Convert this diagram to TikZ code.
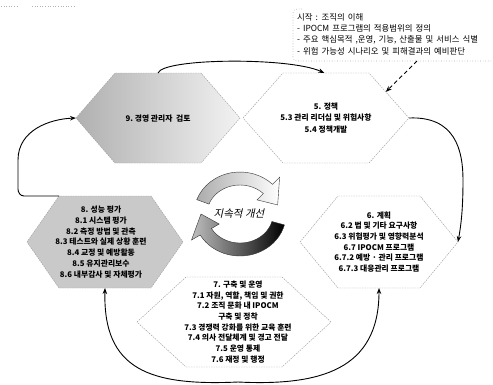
\documentclass[tikz,border=0pt]{standalone}
\usepackage{fontspec}
\setmainfont{Noto Sans CJK KR}
\newfontfamily\slantfont[FakeSlant=0.22]{Noto Sans CJK KR}
\newfontfamily\callfont[WordSpace=1.6]{Noto Sans CJK KR}
\usetikzlibrary{arrows.meta,calc}

\tikzset{
  hexline/.style={draw=gray!75, line width=0.45pt, dash pattern=on 1.5pt off 1pt},
  hextext/.style={align=center, font=\fontsize{7.8}{10.7}\selectfont\bfseries, inner sep=0pt},
  conn/.style={draw=black, line width=0.9pt, -{Stealth[length=6pt,width=4.5pt]}},
  calltext/.style={anchor=west, font=\callfont\fontsize{8.4}{11}\selectfont, inner sep=0pt},
  cyclearrow/.style={draw=black!80, line width=0.4pt},
}

\newcommand\hexpath[7]{%
  \coordinate (#1-L) at ({#2-#4},#3);
  \coordinate (#1-R) at ({#2+#4},#3);
  \coordinate (#1-TL) at ({#2-#5},{#3-#6});
  \coordinate (#1-TR) at ({#2+#5},{#3-#6});
  \coordinate (#1-BL) at ({#2-#5},{#3+#6});
  \coordinate (#1-BR) at ({#2+#5},{#3+#6});
  \coordinate (#1-T) at (#2,{#3-#6});
  \coordinate (#1-B) at (#2,{#3+#6});
  \path[#7] (#1-L) -- (#1-TL) -- (#1-TR) -- (#1-R) -- (#1-BR) -- (#1-BL) -- cycle;
}

\begin{document}
\begin{tikzpicture}[x=1pt,y=-1pt]
\useasboundingbox (0,0) rectangle (493,384);

% stray header dots
\draw[gray!60, dotted, line width=0.6pt] (1,6) -- (18,6) (32,6) -- (75,6);

% hexagons
\hexpath{h9}{158}{118}{82}{43}{45}{hexline, left color=gray!62, right color=gray!10}
\hexpath{h5}{326}{118}{83}{43}{45}{hexline, fill=white}
\hexpath{h8}{105}{242}{78}{46}{46}{hexline, fill=gray!42}
\hexpath{h6}{379}{242}{79}{41}{46}{hexline, fill=white}
\hexpath{h7}{234}{322}{97}{48}{45}{hexline, fill=white}

% texts
\node[hextext] (t9) at (158,119) {9.\ 경영 관리자\ \ 검토};
\node[hextext, font=\fontsize{7.8}{11.8}\selectfont\bfseries] (t5) at (326,118) {5. 정책\\5.3 관리 리더십 및 위험사항\\5.4 정책개발};
\node[hextext] (t8) at (101,242) {8. 성능 평가\\8.1 시스템 평가\\8.2 측정 방법 및 관측\\8.3 테스트와 실제 상황 훈련\\8.4 교정 및 예방활동\\8.5 유지관리보수\\8.6 내부감사 및 자체평가};
\node[hextext] (t6) at (379,242) {6. 계획\\6.2 법 및 기타 요구사항\\6.3 위험평가 및 영향력분석\\6.7 IPOCM 프로그램\\6.7.2 예방 · 관리 프로그램\\6.7.3 대응관리 프로그램};
\node[hextext] (t7) at (238,322) {7. 구축 및 운영\\7.1 자원, 역할, 책임 및 권한\\7.2 조직 문화 내 IPOCM\\구축 및 정착\\7.3 경쟁력 강화를 위한 교육 훈련\\7.4 의사 전달체계 및 경고 전달\\7.5 운영 통제\\7.6 재정 및 행정};

% callout
\draw[gray!70, dotted, line width=0.6pt, rounded corners=4pt] (302,9) -| (293,61) -- (493,61);
\node[calltext] (c1) at (297,17) {시작 : 조직의 이해};
\node[calltext] (c2) at (297,28.5) {- IPOCM 프로그램의 적용범위의 정의};
\node[calltext] (c3) at (297,40) {- 주요 핵심목적 ,운영, 기능, 산출물 및 서비스 식별};
\node[calltext] (c4) at (297,51.5) {- 위험 가능성 시나리오 및 피해결과의 예비판단};
\coordinate (cb) at (417,61);
\coordinate (h5edge) at ($(h5-TR)!0.42!(h5-R)$);
\draw[conn, dash pattern=on 4pt off 3pt] (cb) -- (h5edge);

% cycle connectors
\coordinate (h9top) at ($(h9-TL)!0.5!(h9-TR)$);
\coordinate (h5top) at ($(h5-TL)!0.48!(h5-TR)$);
\draw[conn] (h9top) .. controls (163,58) and (290,57) .. (h5top);
\draw[conn] (h5-R) .. controls (455,116) and (463,150) .. (463,180) .. controls (463,210) and (461,225) .. (h6-R);
\coordinate (bm) at (238,382);
\draw[conn] (bm) .. controls (150,386) and (103,370) .. (h8-B);
\draw[conn] (bm) .. controls (320,386) and (379,370) .. (h6-B);
\draw[conn] (h8-TL) -- (24,196) to[out=180,in=-90] (18,189) -- (18,160) .. controls (18,130) and (50,119) .. (h9-L);

% continuous improvement circle
\begin{scope}[shift={(240,214)}, x=1pt, y=1pt]
  \path[cyclearrow, left color=gray!65, right color=white]
    (160:46 and 42) arc[start angle=160, end angle=45, x radius=46, y radius=42]
    -- (45:56 and 52) -- (15:39 and 35) -- (45:24 and 20) -- (45:33 and 29)
    arc[start angle=45, end angle=160, x radius=33, y radius=29] -- cycle;
  \path[cyclearrow, left color=gray!50, right color=black]
    (-15:46 and 42) arc[start angle=-15, end angle=-150, x radius=46, y radius=42]
    -- (-150:56 and 52) -- (-180:39 and 35) -- (-150:24 and 20) -- (-150:33 and 29)
    arc[start angle=-150, end angle=-15, x radius=33, y radius=29] -- cycle;
\end{scope}
\node[font=\slantfont\fontsize{10.5}{12}\selectfont, inner sep=0pt] (ci) at (239,214) {지속적 개선};

\end{tikzpicture}
\end{document}
